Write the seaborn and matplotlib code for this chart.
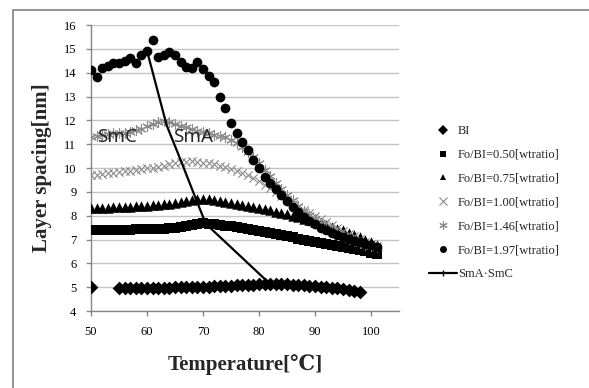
import matplotlib
matplotlib.use("Agg")
import matplotlib.pyplot as plt
import matplotlib.patches as mpatches
from matplotlib.lines import Line2D
import pandas as pd
import seaborn as sns

# Temperatures [C]
temps_bi = [50] + list(range(55, 99))
temps = list(range(50, 102))

# Layer spacing [nm]
bi = [5.00,
      4.95, 4.95, 4.95, 4.96, 4.96, 4.97, 4.97, 4.97, 4.98, 4.98, 4.99, 4.99, 5.00, 5.00, 5.01,
      5.01, 5.02, 5.03, 5.04, 5.05, 5.06, 5.07, 5.08, 5.10, 5.11, 5.12, 5.13, 5.14, 5.14, 5.13,
      5.12, 5.11, 5.10, 5.08, 5.06, 5.04, 5.02, 5.00, 4.98, 4.96, 4.93, 4.90, 4.86, 4.80]
fo_050 = [7.38, 7.38, 7.39, 7.39, 7.40, 7.40, 7.41, 7.41, 7.42, 7.42, 7.43, 7.44, 7.45, 7.46,
          7.48, 7.50, 7.53, 7.57, 7.61, 7.65, 7.68, 7.67, 7.64, 7.61, 7.58, 7.55, 7.51, 7.47,
          7.43, 7.39, 7.35, 7.31, 7.27, 7.23, 7.19, 7.14, 7.09, 7.04, 6.99, 6.94, 6.90, 6.86,
          6.82, 6.78, 6.74, 6.70, 6.65, 6.60, 6.55, 6.50, 6.45, 6.40]
fo_075 = [8.32, 8.32, 8.33, 8.34, 8.35, 8.36, 8.37, 8.38, 8.39, 8.40, 8.42, 8.44, 8.46, 8.48,
          8.50, 8.53, 8.57, 8.62, 8.67, 8.71, 8.72, 8.70, 8.67, 8.63, 8.59, 8.55, 8.51, 8.46,
          8.42, 8.37, 8.32, 8.27, 8.22, 8.17, 8.12, 8.06, 8.00, 7.94, 7.88, 7.82, 7.75, 7.68,
          7.61, 7.54, 7.46, 7.38, 7.29, 7.20, 7.10, 7.00, 6.88, 6.75]
fo_100 = [9.70, 9.72, 9.75, 9.78, 9.80, 9.83, 9.86, 9.89, 9.92, 9.95, 9.98, 10.02, 10.06, 10.10,
          10.15, 10.20, 10.24, 10.27, 10.28, 10.26, 10.23, 10.19, 10.15, 10.10, 10.04, 9.97,
          9.89, 9.80, 9.70, 9.58, 9.45, 9.30, 9.14, 8.98, 8.82, 8.66, 8.51, 8.37, 8.23, 8.10,
          7.97, 7.85, 7.73, 7.61, 7.49, 7.37, 7.25, 7.13, 7.02, 6.91, 6.81, 6.72]
fo_146 = [11.30, 11.35, 11.40, 11.42, 11.45, 11.45, 11.48, 11.52, 11.58, 11.65, 11.75, 11.85,
          11.95, 11.98, 11.92, 11.85, 11.78, 11.70, 11.63, 11.55, 11.50, 11.45, 11.40, 11.35,
          11.28, 11.18, 11.05, 10.88, 10.68, 10.45, 10.20, 9.93, 9.66, 9.39, 9.13, 8.88, 8.64,
          8.42, 8.21, 8.02, 7.84, 7.68, 7.53, 7.39, 7.26, 7.14, 7.03, 6.93, 6.85, 6.78, 6.72, 6.68]
fo_197 = [14.10, 13.80, 14.20, 14.30, 14.40, 14.40, 14.50, 14.60, 14.42, 14.75, 14.92, 15.38,
          14.65, 14.75, 14.88, 14.74, 14.45, 14.25, 14.18, 14.46, 14.15, 13.85, 13.62, 13.00,
          12.52, 11.88, 11.45, 11.10, 10.75, 10.33, 10.01, 9.62, 9.36, 9.10, 8.85, 8.60, 8.36,
          8.15, 7.95, 7.79, 7.64, 7.50, 7.39, 7.29, 7.19, 7.10, 7.02, 6.95, 6.88, 6.81, 6.75, 6.70]

# SmA-SmC phase boundary
boundary_t = [60.0, 63.5, 66.2, 68.7, 70.5, 82.0]
boundary_v = [14.92, 11.80, 10.22, 8.72, 7.66, 5.13]

series = [
    ("BI", temps_bi, bi, "D", "black", 7.0),
    ("Fo/BI=0.50[wtratio]", temps, fo_050, "s", "black", 6.5),
    ("Fo/BI=0.75[wtratio]", temps, fo_075, "^", "black", 7.5),
    ("Fo/BI=1.00[wtratio]", temps, fo_100, "x", "#8c8c8c", 6.0),
    ("Fo/BI=1.46[wtratio]", temps, fo_146, (6, 2, 0), "#8c8c8c", 7.0),
    ("Fo/BI=1.97[wtratio]", temps, fo_197, "o", "black", 7.0),
]

sns.set_theme(style="white")
serif = ["Liberation Serif", "DejaVu Serif"]
plt.rcParams["font.family"] = serif

fig = plt.figure(figsize=(5.89, 3.88), dpi=100)
ax = fig.add_axes([91 / 589, 1 - 311 / 388, 308 / 589, 286 / 388])

handles = []
for name, xs, ys, marker, color, size in series:
    df = pd.DataFrame({"t": xs, "d": ys})
    unfilled = marker == "x" or isinstance(marker, tuple)
    sns.scatterplot(data=df, x="t", y="d", marker=marker, s=size ** 2,
                    color=color, edgecolor=color if not unfilled else None,
                    linewidth=0.8 if unfilled else 0, ax=ax, zorder=3)
    handles.append(Line2D([], [], ls="none", marker=marker, color=color,
                          markersize=5 if not unfilled else 6,
                          markeredgewidth=0.8 if unfilled else 0))

line_df = pd.DataFrame({"t": boundary_t, "d": boundary_v})
sns.lineplot(data=line_df, x="t", y="d", sort=False, color="black", lw=1.6, ax=ax, zorder=4)
handles.append(Line2D([], [], color="black", lw=1.6, marker="|", markersize=4,
                      markeredgewidth=1))
labels = [s[0] for s in series] + ["SmA\u00b7SmC"]

ax.text(54.6, 11.3, "SmC", family="Noto Sans", fontsize=13.5, ha="center", va="center", zorder=5)
ax.text(68.3, 11.3, "SmA", family="Noto Sans", fontsize=13.5, ha="center", va="center", zorder=5)

ax.set_xlim(50, 105)
ax.set_ylim(4, 16)
ax.set_xticks([50, 60, 70, 80, 90, 100])
ax.set_yticks(range(4, 17))
ax.grid(axis="y", color="#c4c4c4", lw=1)
ax.set_axisbelow(True)
for side in ("top", "right"):
    ax.spines[side].set_visible(False)
for side in ("left", "bottom"):
    ax.spines[side].set_color("#868686")
    ax.spines[side].set_linewidth(1)
ax.tick_params(axis="both", which="major", direction="out", length=3.5, width=1,
               color="#868686", labelsize=9, labelcolor="black", pad=7,
               bottom=True, left=True)
ax.set_xlabel("Temperature[\u2103]", fontsize=15, fontweight="bold", family=serif)
ax.set_ylabel("Layer spacing[nm]", fontsize=15, fontweight="bold", family=serif)
ax.xaxis.set_label_coords(0.5, -0.15)
ax.yaxis.set_label_coords(-0.125, 0.5)

ax.legend(handles, labels, loc="upper left", bbox_to_anchor=(429 / 589, 1 - 125 / 388),
          bbox_transform=fig.transFigure, frameon=False, fontsize=9,
          handlelength=2.2, handletextpad=0.1, labelspacing=0.95, borderpad=0,
          borderaxespad=0)

fig.add_artist(mpatches.Rectangle((13 / 589, -0.1), 1.2, 1.1 - 10 / 388, fill=False,
                                  edgecolor="#8a8a8a", lw=1.3, transform=fig.transFigure))

fig.savefig("out.png", dpi=100)
